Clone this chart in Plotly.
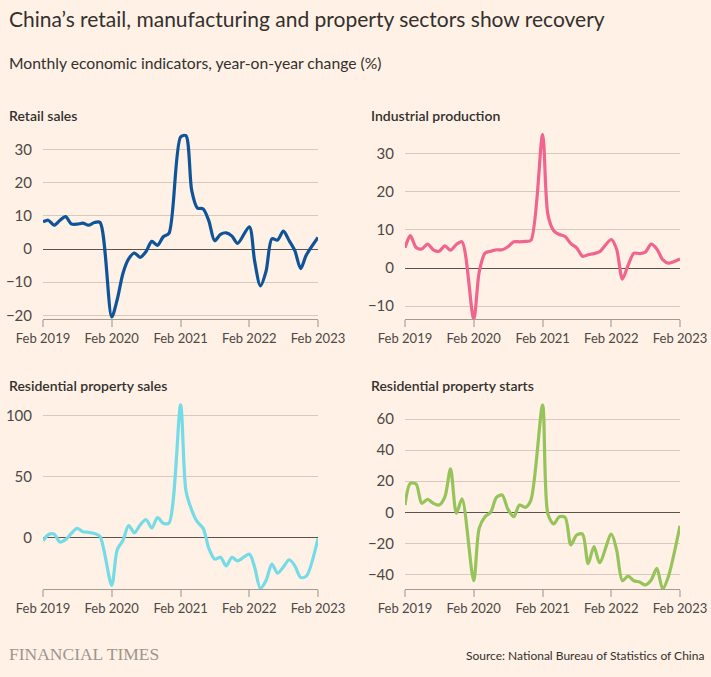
import plotly.graph_objects as go
import datetime as dt

# Months (January merged into February in Chinese data)
months = []
for yr in range(2019, 2023):
    for m in range(2, 13):
        months.append(dt.date(yr, m, 1))
months.append(dt.date(2023, 2, 1))

retail_sales = [8.2, 8.7, 7.2, 8.6, 9.8, 7.6, 7.5, 7.8, 7.2, 8.0, 8.0,
                -20.5, -15.3, -7.3, -3.0, -1.2, -2.5, -0.8, 2.3, 1.1, 3.7, 4.7,
                33.8, 34.2, 17.7, 12.4, 12.1, 8.5, 2.5, 4.4, 4.9, 3.9, 1.7,
                6.7, -3.5, -11.1, -6.7, 3.1, 2.7, 5.4, 2.5, -0.5, -5.9, -1.8,
                3.5]
industrial_production = [5.3, 8.5, 5.4, 5.0, 6.3, 4.8, 4.4, 5.8, 4.7, 6.2, 6.9,
                         -13.5, -1.1, 3.9, 4.4, 4.8, 4.8, 5.6, 6.9, 6.9, 7.0, 7.3,
                         35.1, 14.1, 9.8, 8.8, 8.3, 6.4, 5.3, 3.1, 3.5, 3.8, 4.3,
                         7.5, 5.0, -2.9, 0.7, 3.9, 3.8, 4.2, 6.3, 5.0, 2.2, 1.3,
                         2.4]
property_sales = [-2.5, 2.5, 3.0, -3.5, -1.5, 3.5, 7.7, 5.0, 4.5, 3.5, 1.0,
                  -39.0, -10.0, -2.0, 10.0, 4.0, 10.5, 15.0, 8.0, 16.5, 12.0, 12.0,
                  109.0, 39.0, 22.7, 13.0, 7.7, -8.7, -17.5, -16.0, -23.0, -16.0, -19.0,
                  -13.4, -24.0, -41.5, -35.0, -21.6, -29.0, -24.0, -18.0, -23.0, -32.5, -31.5,
                  -0.5]
property_starts = [4.7, 18.6, 18.2, 5.8, 8.4, 5.8, 4.7, 10.0, 28.0, -0.6, 8.6,
                   -44.0, -10.3, -2.8, 0.0, 9.6, 11.1, 1.9, -2.8, 4.7, 3.2, 7.9,
                   69.0, -1.0, -7.5, -2.8, -3.2, -21.0, -14.6, -14.0, -33.0, -22.0, -32.4,
                   -14.0, -24.0, -44.0, -41.0, -44.0, -44.8, -46.7, -43.5, -36.0, -49.3, -41.4,
                   -8.6]

tick_dates = [dt.date(y, 2, 1) for y in range(2019, 2024)]
tick_labels = ["Feb 2019", "Feb 2020", "Feb 2021", "Feb 2022", "Feb 2023"]

panel_titles = ["Retail sales", "Industrial production",
                "Residential property sales", "Residential property starts"]
series = [retail_sales, industrial_production, property_sales, property_starts]
colors = ["#0f5499", "#f0648e", "#74dbe7", "#96c35a"]
y_ranges = [[-21.1, 35.0], [-13.4, 35.5], [-42.0, 110.5], [-49.3, 70.3]]
y_ticks = [[-20, -10, 0, 10, 20, 30], [-10, 0, 10, 20, 30], [0, 50, 100],
           [-40, -20, 0, 20, 40, 60]]

W, H = 711, 677
BG = "#fff1e5"

def px_x(p):
    return p / W

def px_y(p):
    return 1 - p / H

fig = go.Figure()

x_px = [(43, 318), (405, 680), (43, 318), (405, 680)]
y_px = [(133, 319), (133, 319), (403, 589), (403, 589)]

for i in range(4):
    n = "" if i == 0 else str(i + 1)
    fig.add_trace(go.Scatter(
        x=months, y=series[i], mode="lines",
        line=dict(color=colors[i], width=3.2, shape="spline", smoothing=0.8),
        xaxis="x" + n, yaxis="y" + n, showlegend=False, hoverinfo="x+y"))
    fig.layout["xaxis" + n] = dict(
        domain=[px_x(x_px[i][0]), px_x(x_px[i][1])],
        anchor="y" + n, type="date", automargin=False,
        range=[dt.date(2019, 2, 1), dt.date(2023, 2, 1)],
        tickvals=tick_dates, ticktext=tick_labels,
        showgrid=False, zeroline=False,
        showline=True, linecolor="#a39a92", linewidth=1,
        ticks="outside", ticklen=7, tickcolor="#ccc1b7", tickwidth=2,
        tickfont=dict(family="Lato", size=13, color="#4d4845"),
        fixedrange=True)
    fig.layout["yaxis" + n] = dict(
        domain=[px_y(y_px[i][1]), px_y(y_px[i][0])],
        anchor="x" + n, range=y_ranges[i], tickvals=y_ticks[i],
        automargin=False,
        showgrid=True, gridcolor="#d6cac0", gridwidth=1,
        zeroline=True, zerolinecolor="#5a5450", zerolinewidth=1.2,
        showline=False, ticks="", ticklabelstandoff=10,
        tickfont=dict(family="Lato", size=15, color="#4d4845"),
        fixedrange=True)

annotations = [
    dict(text="China\u2019s retail, manufacturing and property sectors show recovery",
         x=px_x(7), y=px_y(19), xanchor="left", yanchor="middle",
         font=dict(family="Lato", size=21, color="#33302e")),
    dict(text="Monthly economic indicators, year-on-year change (%)",
         x=px_x(7), y=px_y(63), xanchor="left", yanchor="middle",
         font=dict(family="Lato", size=15.7, color="#33302e")),
    dict(text="FINANCIAL TIMES",
         x=px_x(7), y=px_y(654), xanchor="left", yanchor="middle",
         font=dict(family="Liberation Serif", size=17.5, color="#9e958c")),
    dict(text="Source: National Bureau of Statistics of China",
         x=px_x(706), y=px_y(655), xanchor="right", yanchor="middle",
         font=dict(family="Lato", size=12, color="#33302e")),
]
title_pos = [(7, 115), (369, 115), (7, 385), (369, 385)]
for t, (tx, ty) in zip(panel_titles, title_pos):
    annotations.append(dict(text=t, x=px_x(tx), y=px_y(ty),
                            xanchor="left", yanchor="middle",
                            font=dict(family="Lato", size=14, weight=600,
                                      color="#33302e")))
for a in annotations:
    a.update(xref="paper", yref="paper", showarrow=False)

fig.update_layout(
    width=W, height=H, autosize=False,
    margin=dict(l=0, r=0, t=0, b=0, pad=0),
    paper_bgcolor=BG, plot_bgcolor=BG,
    annotations=annotations,
)

fig.write_html(
    "out.html",
    config={"displayModeBar": False},
    post_script="document.body.style.margin='0';document.body.style.padding='0';"
                "document.body.style.overflow='hidden';",
)
